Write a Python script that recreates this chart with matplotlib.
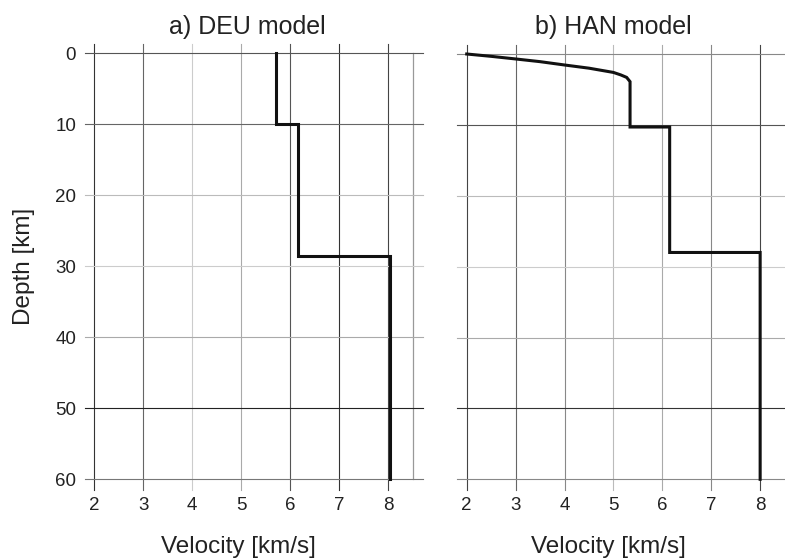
import matplotlib
matplotlib.use("Agg")
import matplotlib.pyplot as plt

plt.rcParams['font.family'] = ['Liberation Sans', 'DejaVu Sans']

# Velocity ticks and depth ticks
vel_ticks = [2, 3, 4, 5, 6, 7, 8]
depth_ticks = [0, 10, 20, 30, 40, 50, 60]

# a) DEU model: layered velocity profile
deu_vel = [5.7, 5.7, 6.15, 6.15, 8.03, 8.03]
deu_depth = [0, 10, 10, 28.5, 28.5, 60]

# b) HAN model: gradient near the surface, then layers
han_vel = [2.0, 2.5, 3.0, 3.5, 4.0, 4.5, 5.0, 5.15, 5.27, 5.34,
           5.34, 6.15, 6.15, 8.0, 8.0]
han_depth = [0.0, 0.33, 0.7, 1.08, 1.55, 2.0, 2.6, 2.95, 3.3, 3.9,
             10.3, 10.3, 28.0, 28.0, 60.0]

titles = ["a) DEU model", "b) HAN model"]
xlabel = "Velocity [km/s]"
ylabel = "Depth [km]"

# grid line shades (scanned-print look)
a_vcol = ['#333333', '#666666', '#cccccc', '#aaaaaa', '#555555', '#333333', '#444444']
a_hcol = ['#555555', '#666666', '#bbbbbb', '#cccccc', '#aaaaaa', '#222222', '#777777']
b_vcol = ['#444444', '#666666', '#888888', '#bbbbbb', '#aaaaaa', '#888888', '#444444']
b_hcol = ['#888888', '#555555', '#bbbbbb', '#cccccc', '#aaaaaa', '#333333', '#888888']

W, H = 785, 559
fig = plt.figure(figsize=(W / 100, H / 100), dpi=100)
txt = '#222222'


def px_axes(x0, x1, y0, y1):
    return fig.add_axes([x0 / W, 1 - y1 / H, (x1 - x0) / W, (y1 - y0) / H])


axa = px_axes(94.3, 412.7, 53.3, 479.3)
axb = px_axes(466.7, 784.6, 54.0, 479.3)

for ax, vel, dep, vcol, hcol, right_edge in [
        (axa, deu_vel, deu_depth, a_vcol, a_hcol, True),
        (axb, han_vel, han_depth, b_vcol, b_hcol, False)]:
    ax.set_xlim(2, 8.5)
    ax.set_ylim(60, 0)
    for s in ax.spines.values():
        s.set_visible(False)
    ax.set_xticks(vel_ticks)
    ax.set_xticklabels([str(v) for v in vel_ticks])
    ax.set_yticks(depth_ticks)
    ax.set_yticklabels([str(d) for d in depth_ticks])
    ax.tick_params(length=0, labelsize=13.5, colors=txt, pad=13)
    if ax is axb:
        ax.tick_params(axis='y', labelleft=False)
    # vertical grid lines with outward ticks at top and bottom
    for v, c in zip(vel_ticks, vcol):
        ax.plot([v, v], [-1.3, 61.55], color=c, lw=0.8, clip_on=False, zorder=1)
    if right_edge:
        ax.plot([8.5, 8.5], [0, 60], color='#999999', lw=0.9, clip_on=False, zorder=1)
    # horizontal grid lines with outward ticks left and right
    for d, c in zip(depth_ticks, hcol):
        ax.plot([1.81, 8.72], [d, d], color=c, lw=0.8, clip_on=False, zorder=1)
    ax.plot(vel, dep, color='#111111', lw=2.2, zorder=3, clip_on=False,
            solid_joinstyle='miter')

# titles and axis labels
fig.text(247 / W, 1 - 34.3 / H, titles[0], ha='center', va='baseline', fontsize=18, color=txt)
fig.text(613 / W, 1 - 34.3 / H, titles[1], ha='center', va='baseline', fontsize=18, color=txt)
fig.text(238 / W, 1 - 553.3 / H, xlabel, ha='center', va='baseline', fontsize=17.5, color=txt)
fig.text(608 / W, 1 - 553.3 / H, xlabel, ha='center', va='baseline', fontsize=17.5, color=txt)
fig.text(30 / W, 1 - 266 / H, ylabel, ha='center', va='baseline', rotation=90,
         rotation_mode='anchor', fontsize=17.5, color=txt)

fig.savefig("out.png", dpi=100, facecolor='white')
